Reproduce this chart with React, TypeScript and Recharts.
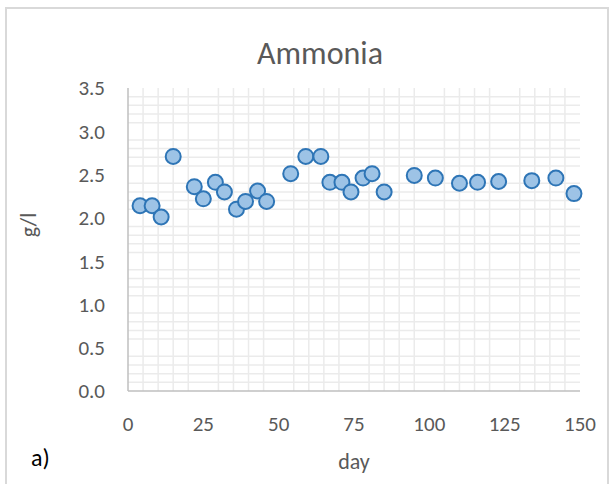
import React from 'react';
import { ScatterChart, Scatter, XAxis, YAxis, CartesianGrid } from 'recharts';

const days = [4, 8, 11, 15, 22, 25, 29, 32, 36, 39, 43, 46, 54, 59, 64, 67, 71, 74, 78, 81, 85, 95, 102, 110, 116, 123, 134, 142, 148];
const ammonia = [2.14, 2.14, 2.01, 2.71, 2.36, 2.22, 2.41, 2.3, 2.1, 2.19, 2.31, 2.19, 2.51, 2.71, 2.71, 2.41, 2.41, 2.3, 2.46, 2.51, 2.3, 2.49, 2.46, 2.4, 2.41, 2.42, 2.43, 2.46, 2.28];
const xTicks = [0, 25, 50, 75, 100, 125, 150];
const yTicks = [0, 0.5, 1, 1.5, 2, 2.5, 3, 3.5];
const xMinor = [5, 10, 15, 20, 30, 35, 40, 45, 55, 60, 65, 70, 80, 85, 90, 95, 105, 110, 115, 120, 130, 135, 140, 145];
const yMinor = [0.1, 0.2, 0.3, 0.4, 0.6, 0.7, 0.8, 0.9, 1.1, 1.2, 1.3, 1.4, 1.6, 1.7, 1.8, 1.9, 2.1, 2.2, 2.3, 2.4, 2.6, 2.7, 2.8, 2.9, 3.1, 3.2, 3.3, 3.4];

const data = days.map((d, i) => ({ day: d, value: ammonia[i] }));

const FONT = 'Calibri, Carlito, Lato, sans-serif';
const TEXT = '#595959';

const Dot = (props: any) => (
  <circle cx={props.cx} cy={props.cy} r={7.5} fill="#9DC3E6" stroke="#2E75B6" strokeWidth={2} />
);

export default function App() {
  return (
    <div style={{ position: 'absolute', left: 0, top: 0, width: 609, height: 484, background: '#fff', overflow: 'hidden' }}>
      <div style={{ position: 'absolute', left: 5, top: 7, width: 604, height: 500, boxSizing: 'border-box', border: '2px solid #D9D9D9' }} />
      <div style={{ position: 'absolute', left: 0, top: 0 }}>
        <ScatterChart width={609} height={484} margin={{ top: 88, right: 29, left: 0, bottom: 43 }}>
          <CartesianGrid
            stroke="#EBEBEB"
            strokeWidth={1.5}
            horizontalValues={yMinor}
            verticalValues={xMinor}
          />
          <XAxis
            type="number"
            dataKey="day"
            domain={[0, 150]}
            ticks={xTicks}
            height={50}
            tickSize={0}
            tickMargin={25}
            axisLine={{ stroke: '#BFBFBF', strokeWidth: 1.5 }}
            tickLine={false}
            tick={{ fill: TEXT, fontSize: 21, fontFamily: FONT }}
            interval={0}
          />
          <YAxis
            type="number"
            dataKey="value"
            domain={[0, 3.5]}
            ticks={yTicks}
            width={128}
            tickSize={0}
            tickMargin={23}
            axisLine={{ stroke: '#BFBFBF', strokeWidth: 1.5 }}
            tickLine={false}
            tick={{ fill: TEXT, fontSize: 21, fontFamily: FONT }}
            tickFormatter={(v: number) => v.toFixed(1)}
            interval={0}
          />
          <Scatter data={data} shape={Dot} isAnimationActive={false} />
        </ScatterChart>
      </div>
      <svg width={609} height={484} style={{ position: 'absolute', left: 0, top: 0, pointerEvents: 'none' }}>
        <text x={320} y={64} textAnchor="middle" fontSize={32} fill={TEXT} fontFamily={FONT}>Ammonia</text>
        <text x={354} y={469} textAnchor="middle" fontSize={22} fill={TEXT} fontFamily={FONT}>day</text>
        <text x={0} y={0} transform="translate(36,225) rotate(-90)" textAnchor="middle" fontSize={22} fill={TEXT} fontFamily={FONT}>g/l</text>
        <text x={31} y={466} fontSize={24} fill="#000" fontFamily={FONT}>a)</text>
      </svg>
    </div>
  );
}
